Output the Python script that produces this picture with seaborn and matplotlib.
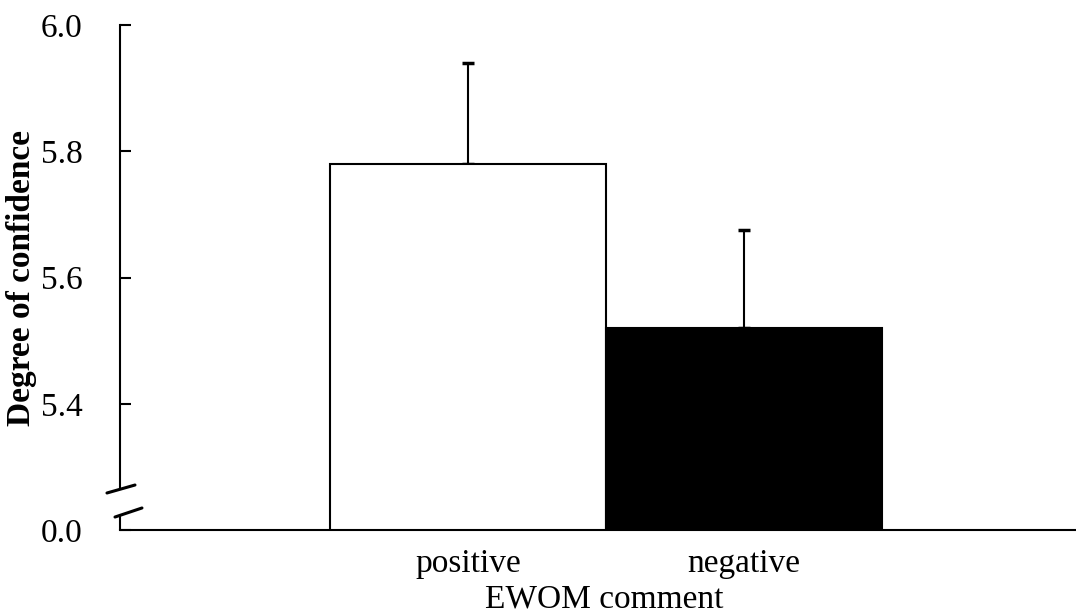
import matplotlib
matplotlib.use("Agg")
import matplotlib.pyplot as plt
import matplotlib.transforms as mtransforms
import seaborn as sns
import pandas as pd

# ---- data ----
categories = ["positive", "negative"]
means = [5.78, 5.52]
errors = [0.16, 0.155]
bar_colors = ["white", "black"]
ytick_values = [5.2, 5.4, 5.6, 5.8, 6.0]
ytick_labels = ["0.0", "5.4", "5.6", "5.8", "6.0"]

sns.set_style("ticks")
plt.rcParams["font.family"] = ["Liberation Serif", "DejaVu Serif"]

df = pd.DataFrame({"comment": categories, "mean": means})

fig = plt.figure(figsize=(10.76, 6.16), dpi=100)
ax = fig.add_axes([0.1115, 0.1396, 0.8885, 0.8198])

sns.barplot(data=df, x="comment", y="mean", hue="comment", palette=bar_colors,
            edgecolor="black", linewidth=1.5, width=1.0, legend=False, ax=ax,
            errorbar=None)
ax.errorbar(x=range(len(categories)), y=means, yerr=[[0] * len(errors), errors],
            fmt="none", ecolor="black", elinewidth=1.5, capsize=4, capthick=2.5,
            zorder=0)

ax.set_ylim(5.2, 6.0)
ax.set_xlim(-1.2636, 2.2055)
ax.set_yticks(ytick_values)
ax.set_yticklabels(ytick_labels)

ax.tick_params(axis="y", direction="in", length=8, width=1.5, pad=27,
               labelsize=24, colors="black")
ax.tick_params(axis="x", length=0, pad=13, labelsize=24, colors="black")

for s in ["top", "right"]:
    ax.spines[s].set_visible(False)
for s in ["left", "bottom"]:
    ax.spines[s].set_linewidth(1.5)
    ax.spines[s].set_color("black")

# axis break
ax.spines["left"].set_bounds(5.268, 6.0)
trans = mtransforms.blended_transform_factory(ax.transAxes, ax.transData)
ax.plot([0, 0], [5.2, 5.224], transform=trans, color="black", lw=1.5,
        clip_on=False, zorder=5)
ax.plot([-0.0136, 0.0157], [0.0733, 0.0891], transform=ax.transAxes,
        color="black", lw=2.2, clip_on=False, zorder=5)
ax.plot([-0.0052, 0.0230], [0.0257, 0.0436], transform=ax.transAxes,
        color="black", lw=2.2, clip_on=False, zorder=5)

ax.set_ylabel("Degree of confidence", fontsize=24, fontweight="bold",
              labelpad=3, color="black")
ax.set_xlabel("EWOM comment", fontsize=24, labelpad=4, color="black", x=0.507)

fig.savefig("out.png", dpi=100)
